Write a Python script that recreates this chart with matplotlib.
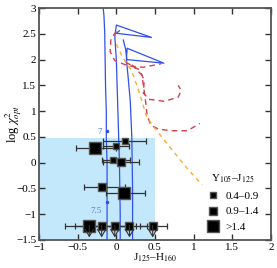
import numpy as np
import matplotlib
matplotlib.use("Agg")
import matplotlib.pyplot as plt
from matplotlib.lines import Line2D

plt.rcParams['font.family'] = ['Liberation Serif', 'DejaVu Serif']
plt.rcParams['mathtext.fontset'] = 'stix'

# observed points: J125-H160 colour, log chi2, x error (left, right), size class
obs_x = [0.11, -0.27, 0.00, -0.04, 0.06, -0.19, 0.10]
obs_y = [0.43, 0.29, 0.33, 0.045, 0.005, -0.48, -0.59]
obs_el = [0.28, 0.25, 0.17, 0.14, 0.23, 0.23, 0.23]
obs_er = [0.28, 0.27, 0.16, 0.22, 0.23, 0.30, 0.27]
obs_cls = [0, 2, 0, 0, 1, 1, 2]

# upper limits (bottom row)
lim_x = [-0.35, -0.19, -0.02, 0.17, 0.47]
lim_y = [-1.22, -1.22, -1.22, -1.22, -1.22]
lim_el = [0.32, 0.35, 0.28, 0.22, 0.17]
lim_er = [0.30, 0.34, 0.27, 0.23, 0.18]
lim_cls = [2, 1, 1, 1, 1]

size_labels = ['0.4\u20130.9', '0.9\u20131.4', '>1.4']
size_ms = [4.5, 6.0, 8.0]

# model tracks
trk1_x = [-0.12, -0.12, -0.12, -0.13, -0.13, -0.14, -0.15, -0.16, -0.17]
trk1_y = [-1.5, -1.0, 0.0, 0.5, 1.0, 1.5, 2.5, 2.85, 3.0]
trk2_x = [0.05, 0.05, 0.04, 0.03, 0.01, 0.0, -0.02, 0.0, 0.455, 0.0, 0.04]
trk2_y = [-1.5, -1.0, 0.0, 0.5, 1.5, 2.0, 2.45, 2.67, 2.43, 2.51, 2.56]
trk3_x = [0.21, 0.21, 0.20, 0.18, 0.15, 0.13, 0.14, 0.615, 0.135, 0.12, 0.09]
trk3_y = [-1.5, -0.5, 0.5, 1.2, 1.7, 2.0, 2.22, 1.93, 2.0, 2.2, 2.38]
tick_x = [-0.12, -0.115]
tick_y = [0.62, -0.76]
tick_lab = ['7', '7.5']
tick_lx = [-0.22, -0.26]
tick_ly = [0.6, -0.93]

red_a_x = [0.0, -0.07, -0.08, -0.02, 0.15, 0.35, 0.58]
red_a_y = [2.55, 2.4, 2.15, 1.98, 1.88, 1.85, 1.92]
red_b_x = [0.12, 0.30, 0.36, 0.35, 0.42, 0.62, 0.80, 0.84, 0.80]
red_b_y = [1.95, 1.80, 1.60, 1.35, 1.23, 1.19, 1.27, 1.40, 1.50]
red_c_x = [0.20, 0.33, 0.37, 0.40, 0.45, 0.55, 0.71, 0.92, 1.08]
red_c_y = [1.90, 1.70, 1.30, 0.90, 0.72, 0.65, 0.62, 0.62, 0.76]
orn_x = [0.0, 0.08, 0.20, 0.30, 0.39, 0.48, 0.65, 0.91, 1.11]
orn_y = [2.30, 2.05, 1.78, 1.35, 0.90, 0.70, 0.38, -0.10, -0.43]

fig = plt.figure(figsize=(2.77, 2.68), dpi=100)
ax = fig.add_axes([0.141, 0.1045, 0.837, 0.8655])

ax.fill_between([-1.0, 0.5], -1.5, 0.47, color='#c4e8fb', lw=0, zorder=0)

blue = '#3050ee'
for tx, ty in [(trk1_x, trk1_y), (trk2_x, trk2_y), (trk3_x, trk3_y)]:
    ax.plot(tx, ty, color=blue, lw=0.9, zorder=2)
ax.plot(tick_x, tick_y, 'o', color=blue, ms=1.5, zorder=2)
for lx, ly, t in zip(tick_lx, tick_ly, tick_lab):
    ax.text(lx, ly, t, color='#5070ee', fontsize=6.5, ha='center', va='center')

ax.plot(red_a_x, red_a_y, '--', color='#e04040', lw=1.0, dashes=(4, 3))
ax.plot(red_b_x, red_b_y, '--', color='#d04050', lw=1.0, dashes=(4, 3))
ax.plot(red_c_x, red_c_y, '--', color='#d04050', lw=1.0, dashes=(4, 3))
ax.plot(orn_x, orn_y, '--', color='#ffaa33', lw=1.0, dashes=(3, 3))

ecol = '#333333'
for x, y, el, er, c in zip(obs_x + lim_x, obs_y + lim_y, obs_el + lim_el,
                           obs_er + lim_er, obs_cls + lim_cls):
    ax.errorbar([x], [y], xerr=[[el], [er]], fmt='s', color=ecol, mfc='black',
                mec='#555555', ms=size_ms[c], elinewidth=0.9, capsize=2.5,
                capthick=0.9, zorder=4)
for x, y in zip(lim_x, lim_y):
    ax.annotate('', xy=(x, -1.45), xytext=(x, y),
                arrowprops=dict(arrowstyle='->,head_length=0.5,head_width=0.3',
                                color='#333333', lw=0.8, shrinkA=0, shrinkB=0,
                                mutation_scale=10), zorder=5)

handles = [Line2D([], [], ls='none', marker='s', color='black', mec='#555555',
                  ms=m) for m in size_ms]
leg = ax.legend(handles, size_labels, title='Y$_{105}$\u2013J$_{125}$',
                loc='lower right', bbox_to_anchor=(0.99, -0.01), frameon=False,
                fontsize=8, title_fontsize=8, handlelength=1.0,
                handletextpad=0.6, labelspacing=0.55)

ax.set_xlim(-1, 2)
ax.set_ylim(-1.5, 3)
ax.set_xticks([-1, -0.5, 0, 0.5, 1, 1.5, 2])
ax.set_xticklabels(['\u22121', '\u22120.5', '0', '0.5', '1', '1.5', '2'])
ax.set_yticks([-1.5, -1, -0.5, 0, 0.5, 1, 1.5, 2, 2.5, 3])
ax.set_yticklabels(['\u22121.5', '\u22121', '\u22120.5', '0', '0.5', '1', '1.5',
                    '2', '2.5', '3'])
ax.tick_params(direction='in', top=True, right=True, length=4, width=1,
               labelsize=8, pad=2, color='#333333')
for s in ax.spines.values():
    s.set_linewidth(1.3)
    s.set_color('#555555')
ax.set_xlabel('J$_{125}$\u2013H$_{160}$', fontsize=8, labelpad=0)
ax.set_ylabel('log $\\chi^2_{opt}$', fontsize=9)
ax.yaxis.set_label_coords(-0.065, 0.5)

fig.savefig('out.png', dpi=100)
